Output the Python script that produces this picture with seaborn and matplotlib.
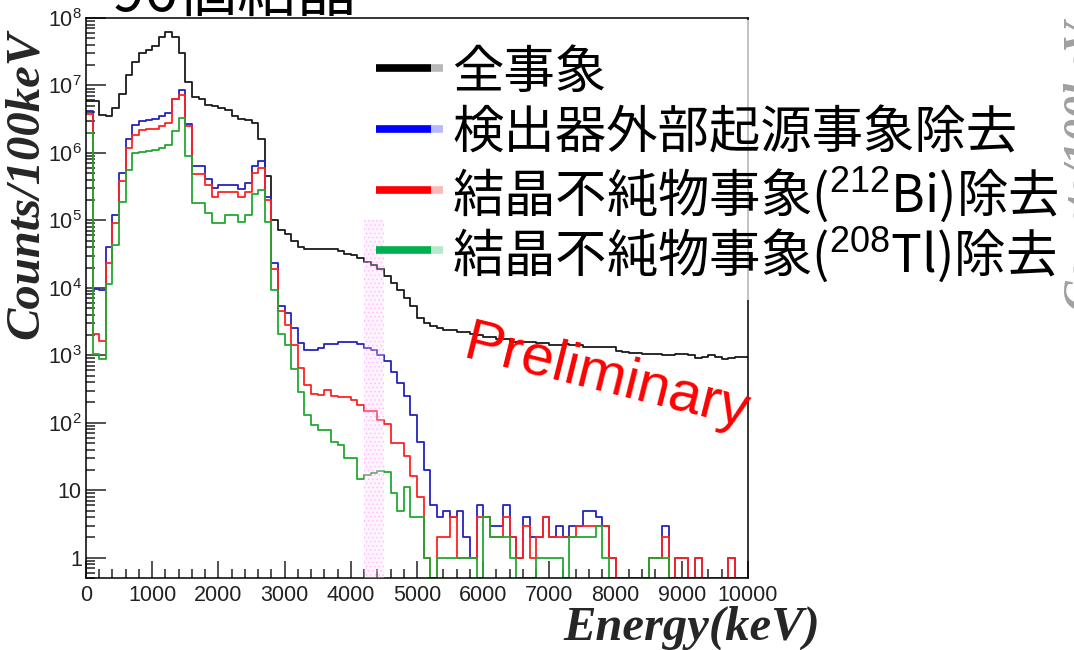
# Energy spectrum of 96 CaF2 crystals with successive background cuts
import numpy as np
import pandas as pd
import seaborn as sns
import matplotlib.pyplot as plt
from matplotlib.lines import Line2D
from matplotlib.patches import Rectangle
from matplotlib.ticker import FixedLocator, FuncFormatter, LogLocator, MultipleLocator, NullFormatter

# 100 keV bins from 0 to 10000 keV
e_max, bin_width = 10000, 100
centers = np.arange(0, e_max, bin_width) + bin_width / 2

# Counts per 100 keV
all_events = [
    5.9e6, 5.9e6, 3.7e6, 3.5e6, 4.7e6, 7.6e6, 1.45e7, 2.2e7, 3.0e7, 3.3e7,
    3.9e7, 5.3e7, 6.1e7, 5.3e7, 3.05e7, 1.12e7, 6.7e6, 6.2e6, 5.2e6, 4.9e6,
    4.7e6, 4.3e6, 3.5e6, 3.2e6, 3.1e6, 2.8e6, 1.6e6, 4.5e5, 1.0e5, 7.2e4,
    6.3e4, 4.9e4, 4.0e4, 3.8e4, 3.8e4, 3.8e4, 3.8e4, 3.8e4, 3.5e4, 3.2e4,
    3.1e4, 2.8e4, 2.4e4, 2.2e4, 1.9e4, 1.5e4, 1.2e4, 9.3e3, 7.1e3, 5.3e3,
    3.6e3, 3.0e3, 2.7e3, 2.5e3, 2.4e3, 2.35e3, 2.25e3, 2.25e3, 2.1e3, 2.0e3,
    1.9e3, 1.9e3, 1.75e3, 1.75e3, 1.6e3, 1.6e3, 1.55e3, 1.55e3, 1.5e3, 1.5e3,
    1.43e3, 1.43e3, 1.45e3, 1.43e3, 1.4e3, 1.35e3, 1.35e3, 1.32e3, 1.32e3, 1.32e3,
    1.15e3, 1.12e3, 1.08e3, 1.08e3, 1.06e3, 1.06e3, 1.03e3, 1.0e3, 1.0e3, 1.03e3,
    1.03e3, 1.0e3, 910, 930, 1.0e3, 930, 870, 910, 960, 960,
]
external_cut = [
    4.2e6, 9.5e3, 9.3e3, 4.0e4, 1.2e5, 5.1e5, 1.6e6, 2.6e6, 2.95e6, 3.1e6,
    3.2e6, 3.5e6, 3.9e6, 6.2e6, 8.7e6, 2.7e6, 6.3e5, 6.3e5, 4.1e5, 3.0e5,
    3.4e5, 3.4e5, 3.4e5, 2.9e5, 3.6e5, 6.5e5, 7.6e5, 2.2e5, 2.3e4, 5.4e3,
    4.2e3, 2.5e3, 1.5e3, 1.2e3, 1.2e3, 1.27e3, 1.48e3, 1.48e3, 1.57e3, 1.57e3,
    1.57e3, 1.48e3, 1.3e3, 1.2e3, 1.0e3, 810, 570, 390, 250, 130,
    52, 20, 6, 4, 5, 4, 5, 2, 1, 6,
    4, 3, 3, 6, 2, 1, 4, 2, 2, 4,
    2, 3, 2, 3, 3, 5, 5, 4, 3, 1,
    0, 0, 0, 0, 0, 1, 1, 3, 0, 1,
    1, 0, 1, 0, 0, 0, 0, 1, 0, 0,
]
bi212_cut = [
    3.8e6, 2.1e3, 1.65e3, 2.3e4, 9.1e4, 3.9e5, 1.17e6, 1.87e6, 2.2e6, 2.3e6,
    2.3e6, 2.5e6, 2.8e6, 6.2e6, 7.1e6, 2.5e6, 4.8e5, 4.8e5, 3.3e5, 2.2e5,
    2.6e5, 2.6e5, 2.6e5, 2.2e5, 2.6e5, 5.0e5, 5.9e5, 2.0e5, 1.9e4, 4.5e3,
    2.8e3, 1.4e3, 650, 360, 270, 260, 310, 250, 240, 240,
    220, 185, 150, 150, 110, 95, 50, 50, 32, 16,
    8, 1, 0, 2, 2, 4, 1, 1, 1, 4,
    4, 2, 2, 4, 2, 1, 3, 1, 2, 4,
    2, 2, 2, 2, 3, 3, 3, 3, 3, 1,
    0, 0, 0, 0, 0, 1, 1, 2, 0, 1,
    1, 0, 1, 0, 0, 0, 0, 1, 0, 0,
]
tl208_cut = [
    2.0e6, 1.05e3, 870, 1.15e4, 4.3e4, 1.9e5, 5.5e5, 1.0e6, 1.02e6, 1.05e6,
    1.1e6, 1.2e6, 1.3e6, 2.1e6, 3.3e6, 9.1e5, 1.8e5, 1.8e5, 1.3e5, 9.3e4,
    9.3e4, 1.2e5, 1.2e5, 9.6e4, 1.2e5, 2.5e5, 2.8e5, 9.6e4, 9.3e3, 2.1e3,
    1.4e3, 620, 290, 130, 94, 78, 78, 52, 47, 30,
    30, 14.7, 16.6, 18, 19.5, 18.8, 9, 5, 11, 4,
    4, 1, 0, 1, 1, 1, 1, 1, 1, 0,
    4, 2, 2, 2, 1, 0, 0, 0, 1, 1,
    1, 1, 0, 2, 2, 2, 2, 3, 1, 0,
    0, 0, 0, 0, 0, 1, 1, 1, 0, 0,
    0, 0, 0, 0, 0, 0, 0, 0, 0, 0,
]

labels = ['全事象', '検出器外部起源事象除去',
          '結晶不純物事象($^{212}$Bi)除去', '結晶不純物事象($^{208}$Tl)除去']
line_colors = ['#1a1a1a', '#2323bf', '#ff2222', '#22a832']
handle_colors = ['#000000', '#0000ff', '#ff0000', '#00b050']
handle_light = ['#b8b8b8', '#b8b8ff', '#ffb8b8', '#b8e8cc']

# Q-value window
band_lo, band_hi, band_top = 4200, 4500, 1e5
y_floor = 0.5

sns.set_theme(style='white')
plt.rcParams['font.family'] = ['Liberation Sans', 'DejaVu Sans']
plt.rcParams['mathtext.fontset'] = 'custom'
plt.rcParams['mathtext.rm'] = 'Liberation Sans'
plt.rcParams['mathtext.it'] = 'Liberation Sans:italic'
plt.rcParams['mathtext.bf'] = 'Liberation Sans:bold'
plt.rcParams['hatch.linewidth'] = 0.6

W, H = 1074, 650
fig = plt.figure(figsize=(W / 100, H / 100), dpi=100)
ax = fig.add_axes([86 / W, 1 - 578 / H, (748 - 86) / W, (578 - 18) / H])

# Draw each spectrum as a step histogram; empty bins sit on the lower edge
for values, color in zip([all_events, external_cut, bi212_cut, tl208_cut], line_colors):
    spec = pd.DataFrame({'energy': centers,
                         'counts': np.maximum(np.array(values, float), y_floor)})
    sns.histplot(data=spec, x='energy', weights='counts',
                 bins=len(centers), binrange=(0, e_max),
                 element='step', fill=False, color=color, linewidth=1.3, ax=ax)

ax.set_yscale('log')
ax.set_xlim(0, e_max)
ax.set_ylim(y_floor, 1e8)
ax.set(xlabel='', ylabel='')

# Pale pink dotted window around the Q-value
ax.add_patch(Rectangle((band_lo, y_floor), band_hi - band_lo, band_top - y_floor,
                       facecolor=(1, 0.85, 1, 0.3), edgecolor=(1, 0.55, 1, 0.45),
                       hatch='....', lw=0, zorder=5))

# ROOT-like axes: inward ticks on left and bottom
ax.xaxis.set_major_locator(MultipleLocator(1000))
ax.xaxis.set_minor_locator(MultipleLocator(200))
ax.yaxis.set_major_locator(FixedLocator([10.0 ** k for k in range(0, 9)]))
ax.yaxis.set_minor_locator(LogLocator(base=10, subs=np.arange(2, 10), numticks=30))
ax.yaxis.set_minor_formatter(NullFormatter())


def y_fmt(v, pos):
    k = int(round(np.log10(v)))
    if k == 0:
        return '1'
    if k == 1:
        return '10'
    return '$10^{%d}$' % k


ax.yaxis.set_major_formatter(FuncFormatter(y_fmt))
ax.tick_params(which='both', direction='in', bottom=True, left=True, top=False, right=False,
               color='#222222', width=1.1, labelsize=15.5, labelcolor='#222222')
ax.tick_params(axis='x', which='major', length=12.5, pad=5)
ax.tick_params(axis='x', which='minor', length=6.5)
ax.tick_params(axis='y', which='major', length=14.5, pad=3)
ax.tick_params(axis='y', which='minor', length=6.5)
for s in ax.spines.values():
    s.set_color('black')
    s.set_linewidth(1.1)

# Axis titles in bold italic serif
serif = ['Liberation Serif', 'DejaVu Serif']
fig.text(26 / W, 1 - 185 / H, 'Counts/100keV', rotation=90, ha='center', va='center',
         family=serif, style='italic', weight='bold', fontsize=35)
fig.text(820 / W, 1 - 640 / H, 'Energy(keV)', ha='right', va='baseline',
         family=serif, style='italic', weight='bold', fontsize=35)

# Title, cut by the top edge
cjk = ['Noto Sans CJK JP', 'DejaVu Sans']
fig.text(111 / W, 1 - 11 / H, '96個結晶', ha='left', va='baseline',
         family=cjk, fontsize=43, color='black')

# Neighbouring slide label, cut by the right edge
fig.text(1062 / W, 1 - 165 / H, 'Counts/100keV', rotation=90, ha='left', va='center',
         family=serif, style='italic', weight='bold', fontsize=33, color='#a0a0a0')

# Semi-transparent legend panel
fig.add_artist(Rectangle((446 / W, 1 - 300 / H), (W - 446) / W, 280 / H,
                         transform=fig.transFigure, facecolor='white', alpha=0.7,
                         edgecolor='none', zorder=3))

# Legend entries drawn by hand
rows = [68, 129, 190, 250]
for lab, col, light, yy in zip(labels, handle_colors, handle_light, rows):
    yf = 1 - yy / H
    fig.add_artist(Line2D([376 / W, 431 / W], [yf, yf], transform=fig.transFigure,
                          color=col, lw=5.5, solid_capstyle='butt', zorder=6))
    fig.add_artist(Line2D([431 / W, 443 / W], [yf, yf], transform=fig.transFigure,
                          color=light, lw=5.5, solid_capstyle='butt', zorder=6))
    fig.text(452 / W, 1 - (yy + 5) / H, lab, ha='left', va='center',
             family=cjk, fontsize=37, color='black', zorder=7)

# Preliminary stamp
fig.text(606 / W, 1 - 378 / H, 'Preliminary', rotation=-14, rotation_mode='anchor',
         ha='center', va='center', fontsize=42, color='#ff0000',
         family=['Liberation Sans', 'DejaVu Sans'], zorder=8)

fig.savefig('out.png', dpi=100)
